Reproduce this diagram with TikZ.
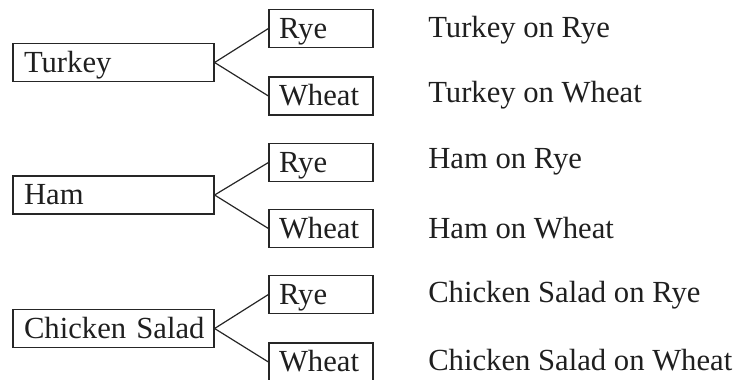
\documentclass[tikz,border=0pt]{standalone}
\usepackage{fontspec}
\setmainfont{Liberation Serif}
\begin{document}
\begin{tikzpicture}[x=0.75pt,y=-0.75pt,
  every node/.style={font=\fontsize{23}{27}\selectfont, text=black!88},
  mainbox/.style={draw=black!85, line width=0.9pt, rectangle, inner xsep=8.25pt, inner ysep=0pt,
    minimum height=28.5pt, text width=134.25pt, align=left, text height=18pt, text depth=3.3pt},
  breadbox/.style={draw=black!85, line width=0.9pt, rectangle, inner xsep=7.5pt, inner ysep=0pt,
    minimum height=28.5pt, text width=63pt, align=left, text height=18pt, text depth=3.3pt},
  combo/.style={anchor=base west, inner sep=0pt},
  branch/.style={draw=black!85, line width=0.9pt}]
\useasboundingbox (0,0) rectangle (737,379);
% main boxes
\node[mainbox] (turkey) at (113.5,62.5) {\mbox{Turkey}};
\node[mainbox] (ham) at (113.5,195) {\mbox{Ham}};
\node[mainbox] (chicken) at (113.5,328.5) {\mbox{Chicken Salad}};
% bread boxes
\node[breadbox] (trye) at (321,28.5) {\mbox{Rye}};
\node[breadbox] (twheat) at (321,96) {\mbox{Wheat}};
\node[breadbox] (hrye) at (321,162.5) {\mbox{Rye}};
\node[breadbox] (hwheat) at (321,228.5) {\mbox{Wheat}};
\node[breadbox] (crye) at (321,294.5) {\mbox{Rye}};
\node[breadbox] (cwheat) at (321,362) {\mbox{Wheat}};
% connectors
\draw[branch] (turkey.east) -- (trye.west);
\draw[branch] (turkey.east) -- (twheat.west);
\draw[branch] (ham.east) -- (hrye.west);
\draw[branch] (ham.east) -- (hwheat.west);
\draw[branch] (chicken.east) -- (crye.west);
\draw[branch] (chicken.east) -- (cwheat.west);
% combinations
\node[combo] (c1) at (428,37) {Turkey on Rye};
\node[combo] (c2) at (428,102) {Turkey on Wheat};
\node[combo] (c3) at (428,168) {Ham on Rye};
\node[combo] (c4) at (428,238) {Ham on Wheat};
\node[combo] (c5) at (428,302) {Chicken Salad on Rye};
\node[combo] (c6) at (428,370) {Chicken Salad on Wheat};
\end{tikzpicture}
\end{document}
